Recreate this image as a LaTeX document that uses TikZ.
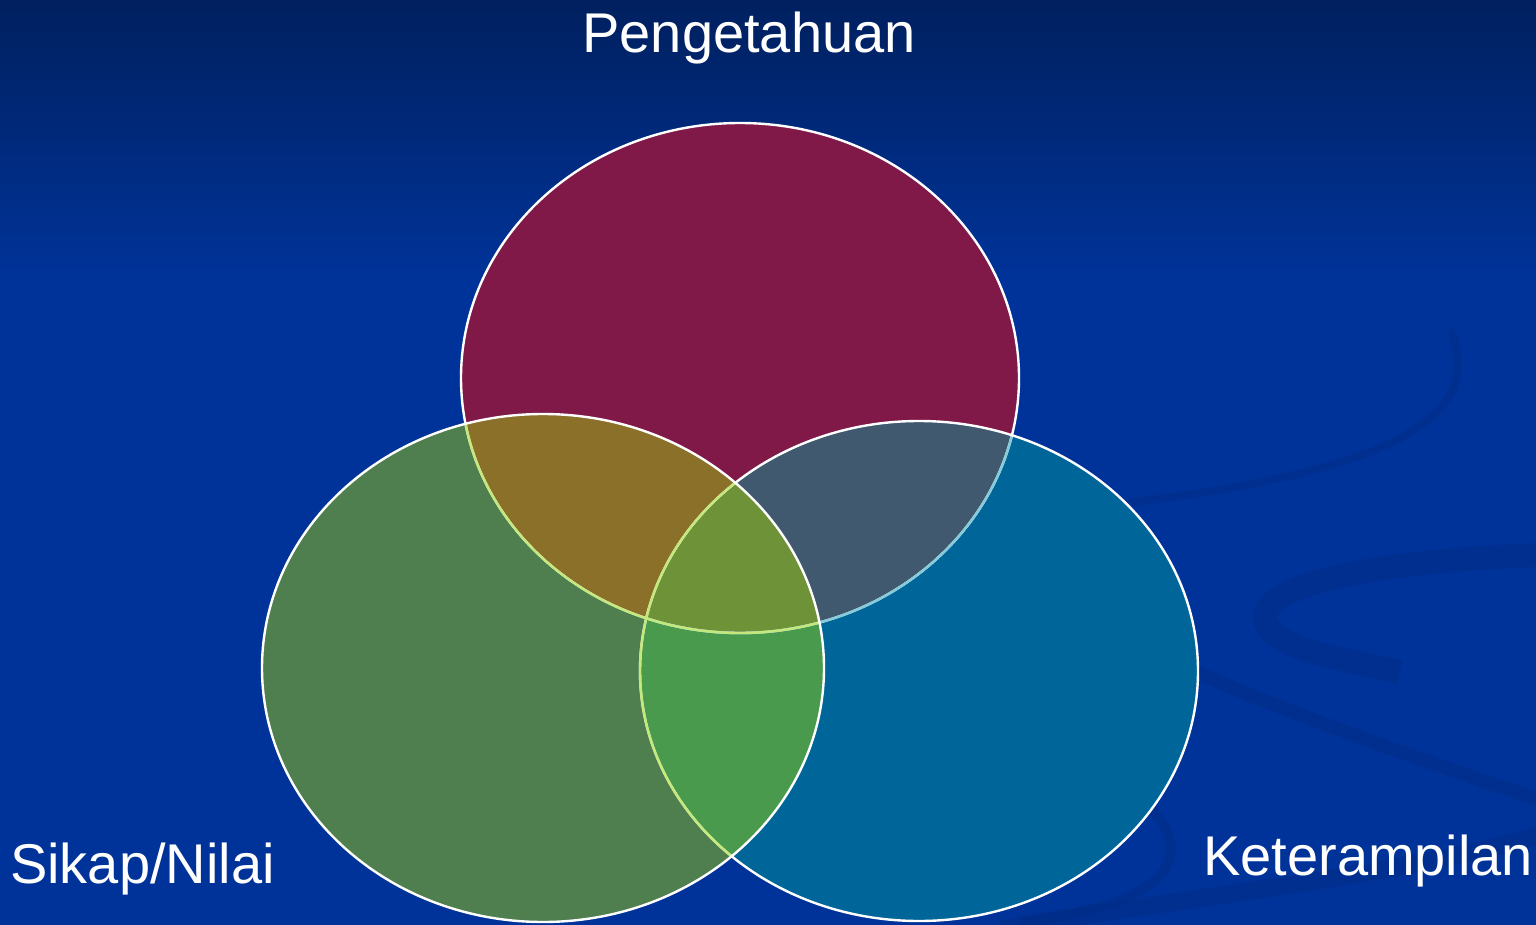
\documentclass[tikz,border=0pt]{standalone}
\usepackage{fontspec}
\setmainfont{Liberation Sans}
\begin{document}
\begin{tikzpicture}[x=1pt,y=-1pt,
  lbl/.style={text=white,inner sep=0pt,font=\fontsize{56}{67}\selectfont},
  rim/.style={draw=white,line width=2.4pt},
  swirl/.style={draw=swirlc,opacity=0.35}]
\definecolor{bgtop}{HTML}{00205F}
\definecolor{bgmid}{HTML}{003399}
\definecolor{swirlc}{HTML}{002A80}
\definecolor{cTop}{HTML}{801848}
\definecolor{cLeft}{HTML}{4F7F4F}
\definecolor{cRight}{HTML}{006699}
\definecolor{cTL}{HTML}{8B7029}
\definecolor{cTR}{HTML}{41596F}
\definecolor{cLR}{HTML}{4A9A4D}
\definecolor{cAll}{HTML}{6D9238}
\definecolor{rimG}{HTML}{C4E87A}
\definecolor{rimC}{HTML}{84CCDC}
\def\EA{(740,378) ellipse [x radius=279pt, y radius=255pt]}
\def\EL{(543,668) ellipse [x radius=281pt, y radius=254pt]}
\def\ER{(919,671) ellipse [x radius=279pt, y radius=250pt]}
\useasboundingbox (0,0) rectangle (1536,925);
% background
\fill[bgmid] (0,0) rectangle (1536,925);
\shade[top color=bgtop, bottom color=bgmid] (0,0) rectangle (1536,280);
% faint swirls
\draw[swirl,line width=8pt] (1450,330) .. controls (1490,420) and (1380,470) .. (1150,500) .. controls (1000,520) and (900,560) .. (860,600);
\draw[swirl,line width=24pt] (1540,555) .. controls (1400,560) and (1260,580) .. (1265,620) .. controls (1270,650) and (1350,660) .. (1400,672);
\draw[swirl,line width=10pt] (850,660) .. controls (1000,720) and (1150,770) .. (1170,840) .. controls (1180,890) and (1100,915) .. (1000,925);
\draw[swirl,line width=14pt] (1160,655) .. controls (1250,700) and (1420,760) .. (1540,800);
\draw[swirl,line width=18pt] (1020,925) .. controls (1250,890) and (1420,870) .. (1540,835);
% fills
\fill[cTop] \EA;
\fill[cRight] \ER;
\fill[cLeft] \EL;
\begin{scope}\clip \EA; \fill[cTR] \ER; \end{scope}
\begin{scope}\clip \EA; \fill[cTL] \EL; \end{scope}
\begin{scope}\clip \EL; \fill[cLR] \ER; \end{scope}
\begin{scope}\clip \EA; \clip \EL; \fill[cAll] \ER; \end{scope}
% rims
\draw[rim] \EA;
\begin{scope}\clip \ER; \draw[rimC,line width=2.4pt] \EA; \end{scope}
\draw[rim] \ER;
\begin{scope}\clip \EL; \draw[rimG,line width=2.4pt] \EA; \draw[rimG,line width=2.4pt] \ER; \end{scope}
\draw[rim] \EL;
% labels
\node[lbl,anchor=base] (peng) at (749,53) {Pengetahuan};
\node[lbl,anchor=base west] (sikap) at (10,883) {Sikap/Nilai};
\node[lbl,anchor=base west] (ketr) at (1203,875) {Keterampilan};
\end{tikzpicture}
\end{document}
